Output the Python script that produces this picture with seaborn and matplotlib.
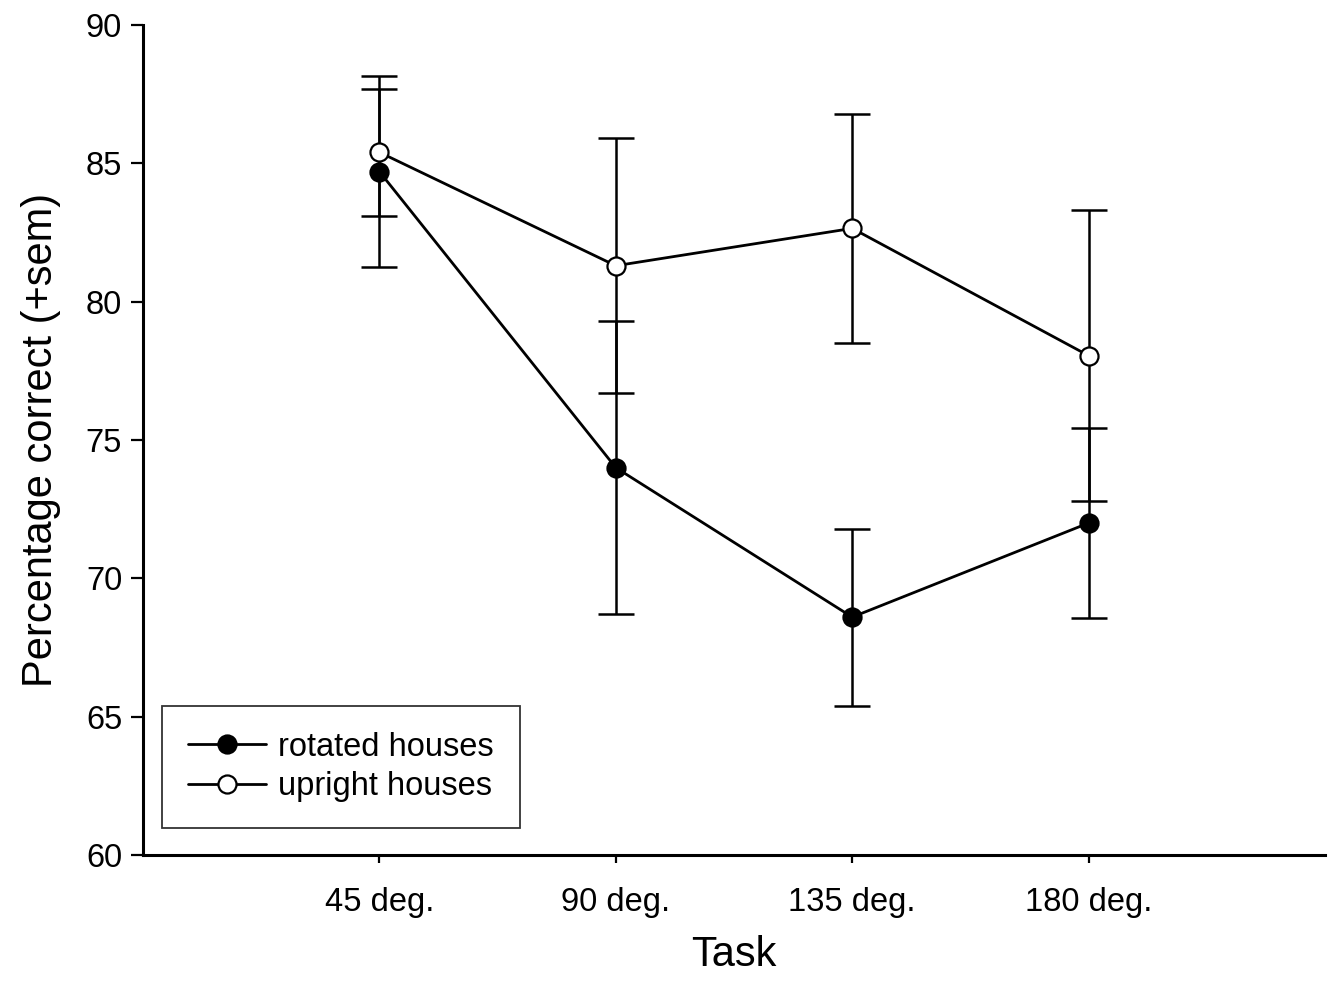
import numpy as np
import pandas as pd
import matplotlib
matplotlib.use('Agg')
import matplotlib.pyplot as plt
import seaborn as sns

# data
tasks = ['45 deg.', '90 deg.', '135 deg.', '180 deg.']
rotated = [84.7, 74.0, 68.6, 72.0]
rotated_sem = [3.45, 5.3, 3.2, 3.45]
upright = [85.4, 81.3, 82.65, 78.05]
upright_sem = [2.3, 4.6, 4.15, 5.25]

sns.set_style('ticks')
plt.rcParams['font.family'] = ['Liberation Sans', 'DejaVu Sans']
plt.rcParams['text.color'] = 'black'
plt.rcParams['axes.labelcolor'] = 'black'

df = pd.DataFrame({
    'pos': list(range(1, 5)) * 2,
    'value': rotated + upright,
    'group': ['rotated houses'] * 4 + ['upright houses'] * 4,
})

fig = plt.figure(figsize=(13.33, 9.81), dpi=100)
ax = fig.add_axes([0.1073, 0.1284, 0.8867, 0.8461])

# error bars first so markers sit on top
x = np.arange(1, 5)
ax.errorbar(x, rotated, yerr=rotated_sem, fmt='none', ecolor='black',
            elinewidth=1.8, capsize=13, capthick=1.8, zorder=1)
ax.errorbar(x, upright, yerr=upright_sem, fmt='none', ecolor='black',
            elinewidth=1.8, capsize=13, capthick=1.8, zorder=1)

sns.lineplot(data=df[df.group == 'rotated houses'], x='pos', y='value', ax=ax,
             color='black', lw=2.0, marker='o', markersize=13,
             markerfacecolor='black', markeredgecolor='black', markeredgewidth=1.6,
             label='rotated houses', zorder=3)
sns.lineplot(data=df[df.group == 'upright houses'], x='pos', y='value', ax=ax,
             color='black', lw=2.0, marker='o', markersize=13,
             markerfacecolor='white', markeredgecolor='black', markeredgewidth=1.6,
             label='upright houses', zorder=3)

ax.set_xlim(0, 5)
ax.set_ylim(60, 90)
ax.set_xticks(x)
ax.set_xticklabels(tasks)
ax.set_yticks(range(60, 91, 5))
ax.tick_params(axis='both', labelsize=23.5, colors='black', width=1.6)
ax.tick_params(axis='y', length=9, pad=6)
ax.tick_params(axis='x', length=6, pad=17)
for s in ['top', 'right']:
    ax.spines[s].set_visible(False)
for s in ['left', 'bottom']:
    ax.spines[s].set_linewidth(2.2)
    ax.spines[s].set_color('black')

ax.set_xlabel('Task', fontsize=30, labelpad=12)
ax.set_ylabel('Percentage correct (+sem)', fontsize=30, labelpad=18)

leg = ax.legend(loc='lower left', bbox_to_anchor=(0.016, 0.0325), borderaxespad=0,
                fontsize=23.5, frameon=True, fancybox=False, handlelength=2.4,
                handletextpad=0.35, borderpad=0.8, labelspacing=0.25)
leg.get_frame().set_edgecolor('black')
leg.get_frame().set_linewidth(1.3)

fig.savefig('out.png', dpi=100)
